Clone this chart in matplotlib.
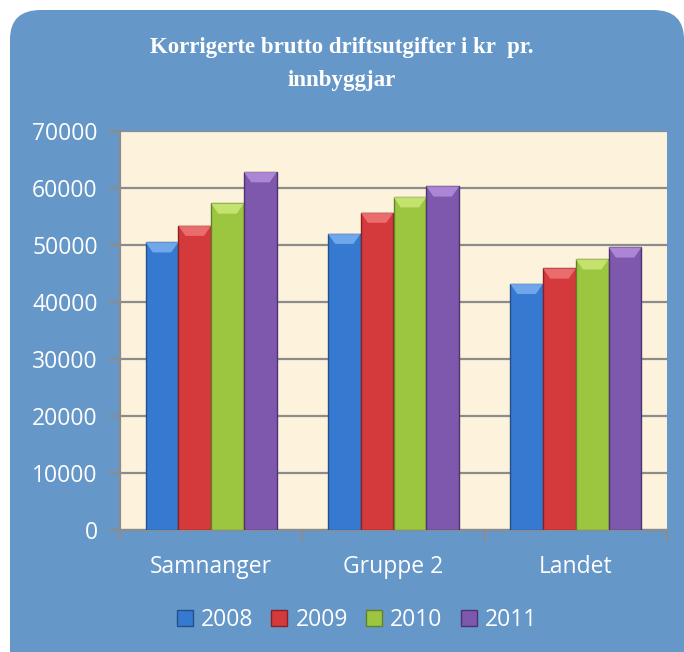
import numpy as np
import matplotlib
matplotlib.use("Agg")
import matplotlib.pyplot as plt
from matplotlib.patches import FancyBboxPatch, Polygon

# data
categories = ["Samnanger", "Gruppe 2", "Landet"]
years = ["2008", "2009", "2010", "2011"]
v2008 = [50500, 52000, 43200]
v2009 = [53400, 55700, 45900]
v2010 = [57300, 58400, 47500]
v2011 = [62800, 60300, 49600]
yticks = [0, 10000, 20000, 30000, 40000, 50000, 60000, 70000]

colors = ["#3679d0", "#d43a3c", "#9cc63f", "#7e58ad"]
tops = ["#7fb3f2", "#f07a7a", "#cdea7a", "#b892e0"]
edges = ["#24508a", "#8a2224", "#62822a", "#4d3470"]

fig = plt.figure(figsize=(6.84, 6.52), dpi=100)
fig.patch.set_facecolor("white")

# rounded blue panel behind everything
panel = FancyBboxPatch((10 / 684, -0.1), 1.0 - 10 / 684, 0.1 + 642 / 652,
                       boxstyle="round,pad=0,rounding_size=0.045",
                       transform=fig.transFigure, facecolor="#6597c8",
                       edgecolor="none", zorder=-10)
fig.patches.append(panel)

ax = fig.add_axes([120 / 684, 122 / 652, 547 / 684, 399 / 652], zorder=2)
ax.set_facecolor("#fdf3dc")

series = [v2008, v2009, v2010, v2011]
x = np.arange(len(categories))
w = 0.18
bevel = 1800  # height of the light top facet, in data units
for i, vals in enumerate(series):
    xs = x + (i - 1.5) * w
    bars = ax.bar(xs, vals, width=w, color=colors[i], edgecolor=edges[i],
                  linewidth=1.0, zorder=3, label=years[i])
    for b in bars:
        x0 = b.get_x()
        x1 = x0 + b.get_width()
        h = b.get_height()
        ins = b.get_width() * 0.22
        ax.add_patch(Polygon([(x0, h), (x1, h), (x1 - ins, h - bevel),
                              (x0 + ins, h - bevel)], closed=True,
                             facecolor=tops[i], edgecolor="none", alpha=0.8,
                             zorder=4))

ax.set_xlim(-0.5, 2.5)
ax.set_ylim(0, 70000)
ax.set_yticks(yticks)
ax.set_yticklabels([str(t) for t in yticks])
ax.yaxis.grid(True, color="#8c8c8c", linewidth=1.6, zorder=1)
ax.set_axisbelow(True)

ax.set_xticks(x)
ax.set_xticklabels(categories)
ax.set_xticks([-0.5, 0.5, 1.5, 2.5], minor=True)
ax.tick_params(axis="x", which="major", length=0, pad=18, labelsize=16.5,
               labelcolor="white")
ax.tick_params(axis="x", which="minor", length=8, width=1.5, color="#8c8c8c",
               direction="out")
ax.tick_params(axis="y", length=8, width=1.5, color="#8c8c8c", pad=8,
               labelsize=16.5, labelcolor="white")
for lab in ax.get_xticklabels() + ax.get_yticklabels():
    lab.set_family("Open Sans")

for s in ["top", "right"]:
    ax.spines[s].set_visible(False)
ax.spines["left"].set_color("#8c8c8c")
ax.spines["left"].set_linewidth(1.6)
ax.spines["bottom"].set_color("#8c8c8c")
ax.spines["bottom"].set_linewidth(1.6)

fig.text(0.5, 1 - 64 / 652, "Korrigerte brutto driftsutgifter i kr  pr.\ninnbyggjar",
         ha="center", va="center", color="white", fontsize=16.5,
         fontweight="bold", family="Liberation Serif", linespacing=1.75)

leg = fig.legend(loc="center", bbox_to_anchor=(357 / 684, 1 - 620 / 652),
                 ncol=4, frameon=False, handlelength=0.7, handleheight=0.7,
                 handletextpad=0.35, columnspacing=0.8,
                 prop={"family": "Open Sans", "size": 16.5})
for t in leg.get_texts():
    t.set_color("white")

fig.savefig("out.png", dpi=100)
